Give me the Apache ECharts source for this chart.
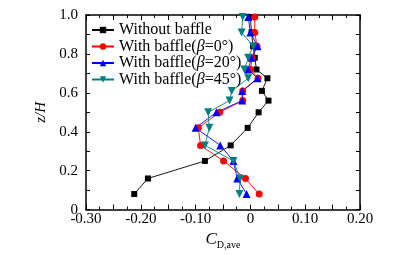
<!DOCTYPE html>
<html>
<head>
<meta charset="utf-8">
<script src="https://cdn.jsdelivr.net/npm/echarts@6/dist/echarts.min.js"></script>
<style>
  html, body { margin: 0; padding: 0; background: #fff; }
  #chart { width: 401px; height: 255px; }
</style>
</head>
<body>
<div id="chart"></div>
<script>
// z/H levels (shared by all curves)
var zLevels = [0.08, 0.16, 0.25, 0.33, 0.42, 0.50, 0.56, 0.61, 0.675, 0.72, 0.78, 0.84, 0.91, 0.99];
// C_D,ave values
var noBaffle = [-0.212, -0.187, -0.083, -0.036, -0.005, 0.015, 0.033, 0.021, 0.031, 0.011, 0.008, 0.005, 0.002, 0.000];
var beta0    = [0.016, -0.009, -0.049, -0.091, -0.095, -0.056, -0.014, -0.014, 0.014, 0.000, 0.003, 0.012, 0.008, 0.008];
var beta20   = [-0.007, -0.024, -0.031, -0.055, -0.100, -0.062, -0.015, -0.015, 0.013, -0.004, 0.002, 0.013, 0.000, -0.004];
var beta45   = [-0.020, -0.019, -0.031, -0.083, -0.075, -0.077, -0.038, -0.034, -0.004, -0.011, -0.004, 0.005, -0.016, -0.014];
var seriesNames = ['Without baffle', 'With baffle(β=0°)', 'With baffle(β=20°)', 'With baffle(β=45°)'];

function pairs(xs) {
  var out = [];
  for (var i = 0; i < xs.length; i++) {
    out.push([xs[i], zLevels[i]]);
  }
  return out;
}

var serif = '"Liberation Serif", "DejaVu Serif", serif';
var axisCol = '#000';

var chart = echarts.init(document.getElementById('chart'));

function mkSeries(name, xs, color, symbol, rotate, size) {
  return {
    name: name,
    type: 'line',
    data: pairs(xs),
    symbol: symbol,
    symbolRotate: rotate,
    symbolSize: size,
    lineStyle: { color: color, width: 0.9 },
    itemStyle: { color: color },
    animation: false,
    z: 3
  };
}

var xTickOpt = {
  type: 'value',
  min: -0.3,
  max: 0.2,
  interval: 0.05,
  axisLine: { onZero: false, lineStyle: { color: axisCol, width: 1.5 } },
  axisTick: { inside: true, length: 5, lineStyle: { color: axisCol, width: 1 } },
  minorTick: { show: true, splitNumber: 2, length: 3, lineStyle: { color: axisCol, width: 1 } },
  splitLine: { show: false }
};

var yTickOpt = {
  type: 'value',
  min: 0,
  max: 1,
  interval: 0.1,
  axisLine: { show: true, onZero: false, lineStyle: { color: axisCol, width: 1.5 } },
  axisTick: { show: true, inside: true, length: 4, lineStyle: { color: axisCol, width: 1 } },
  splitLine: { show: false }
};

chart.setOption({
  backgroundColor: '#fff',
  animation: false,
  grid: { left: 86, right: 41, top: 15, bottom: 38 },
  legend: {
    orient: 'vertical',
    left: 91,
    top: 22,
    padding: 0,
    itemWidth: 22,
    itemHeight: 8,
    itemGap: 0.5,
    data: seriesNames,
    formatter: function (name) {
      var m = name.match(/^With baffle\(β=(\d+°)\)$/);
      if (m) return '{n|With baffle(}{b|β}{n|=' + m[1] + ')}';
      return '{n|' + name + '}';
    },
    textStyle: {
      fontFamily: serif,
      fontSize: 16,
      color: '#000',
      lineHeight: 16,
      rich: {
        n: { fontFamily: serif, fontSize: 16, color: '#000', lineHeight: 16 },
        b: { fontFamily: serif, fontSize: 16, fontStyle: 'italic', color: '#000', lineHeight: 16 }
      }
    }
  },
  xAxis: [
    Object.assign({}, xTickOpt, {
      position: 'bottom',
      name: '{i|C}{s|D,ave}',
      nameLocation: 'middle',
      nameGap: 16,
      nameTextStyle: {
        rich: {
          i: { fontFamily: serif, fontSize: 17, fontStyle: 'italic', color: '#000' },
          s: { fontFamily: serif, fontSize: 10, color: '#000', padding: [10, 0, 0, 0] }
        }
      },
      axisLabel: {
        fontFamily: serif,
        fontSize: 15,
        color: '#000',
        margin: 2,
        formatter: function (v) {
          var n = Math.round(v * 100);
          if (n % 10 !== 0) return '';
          if (n === 0) return '0';
          return (n / 100).toFixed(2);
        }
      }
    }),
    Object.assign({}, xTickOpt, {
      position: 'top',
      axisLabel: { show: false }
    })
  ],
  yAxis: [
    Object.assign({}, yTickOpt, {
      position: 'left',
      name: 'z/H',
      nameLocation: 'middle',
      nameGap: 35,
      nameTextStyle: { fontFamily: serif, fontSize: 15, fontStyle: 'italic', color: '#000' },
      axisLabel: {
        fontFamily: serif,
        fontSize: 15,
        color: '#000',
        margin: 8,
        formatter: function (v) {
          var n = Math.round(v * 10);
          if (n % 2 !== 0) return '';
          if (n === 0) return '0';
          return (n / 10).toFixed(1);
        }
      }
    }),
    Object.assign({}, yTickOpt, {
      position: 'right',
      axisLabel: { show: false }
    })
  ],
  series: [
    mkSeries(seriesNames[0], noBaffle, '#000000', 'rect', 0, 6),
    mkSeries(seriesNames[1], beta0, '#ff0000', 'circle', 0, 7),
    mkSeries(seriesNames[2], beta20, '#0000ff', 'triangle', 0, 8),
    mkSeries(seriesNames[3], beta45, '#008080', 'triangle', 180, 8)
  ]
});
</script>
</body>
</html>
